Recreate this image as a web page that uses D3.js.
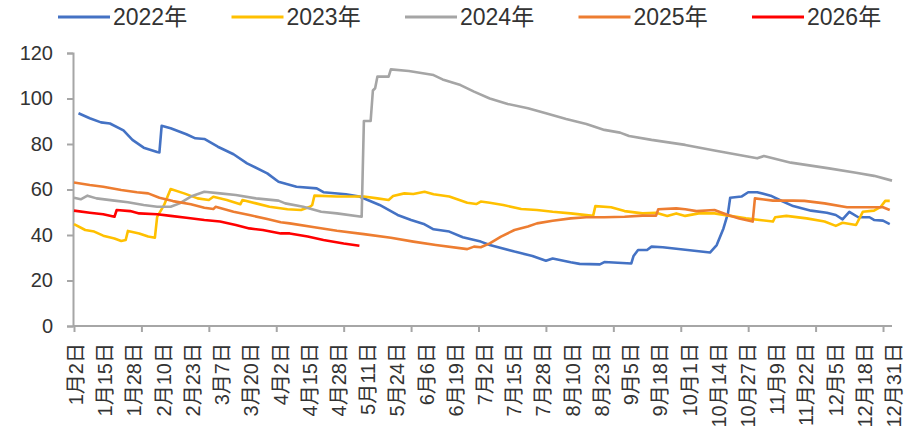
<!DOCTYPE html>
<html>
<head>
<meta charset="utf-8">
<script src="https://cdn.jsdelivr.net/npm/d3@7"></script>
<style>
  body { margin: 0; background: #fff; }
  text { font-family: "Liberation Sans", "Noto Sans CJK SC", sans-serif; fill: #333; }
</style>
</head>
<body>
<svg id="canvas" width="907" height="442"></svg>
<script>
// categories: every calendar day 1月2日 .. 12月31日 (leap-year calendar)
const categories = d3.timeDay.range(new Date(2024, 0, 2), new Date(2025, 0, 1));
const fmtDay = d => (d.getMonth() + 1) + '月' + d.getDate() + '日';

const tickLabels = ['1月2日', '1月15日', '1月28日', '2月10日', '2月23日', '3月7日', '3月20日',
  '4月2日', '4月15日', '4月28日', '5月11日', '5月24日', '6月6日', '6月19日', '7月2日',
  '7月15日', '7月28日', '8月10日', '8月23日', '9月5日', '9月18日', '10月1日', '10月14日',
  '10月27日', '11月9日', '11月22日', '12月5日', '12月18日', '12月31日'];
const yTicks = [0, 20, 40, 60, 80, 100, 120];
const seriesNames = ['2022年', '2023年', '2024年', '2025年', '2026年'];
const seriesColors = ['#4472C4', '#FFC000', '#A5A5A5', '#ED7D31', '#FF0000'];

// day index (0 = 1月2日) and value
const days2022 = [2, 7, 12, 16, 22, 26, 31, 37, 38, 39, 43, 50, 54, 58, 64, 71, 77, 86, 91, 99, 108, 111,
  121, 127, 136, 144, 150, 156, 160, 167, 173, 181, 185, 196, 204, 210, 213, 221, 225, 234, 236, 242,
  248, 249, 251, 255, 257, 262, 271, 283, 286, 289, 291, 292, 297, 300, 304, 310, 314, 320, 328, 335,
  339, 342, 345, 349, 354, 356, 360, 363];
const vals2022 = [93.5, 91.3, 89.5, 89, 86, 81.8, 78.4, 76.5, 76.3, 88, 86.9, 84.3, 82.5, 82.2, 78.8, 75.5,
  71.5, 67.1, 63.4, 61.2, 60.5, 58.8, 57.9, 56.9, 53.2, 48.8, 46.6, 44.7, 42.5, 41.5, 39, 37.1, 35.6,
  32.7, 30.8, 28.7, 29.7, 28, 27.3, 27.1, 28.1, 27.8, 27.5, 30.8, 33.4, 33.4, 34.9, 34.6, 33.6, 32.3,
  35.6, 42.9, 49.5, 56.4, 56.9, 58.8, 58.8, 57.3, 55.4, 52.7, 50.7, 49.8, 48.8, 46.9, 50.2, 47.8, 47.8,
  46.6, 46.3, 44.8];

const days2023 = [0, 5, 9, 13, 18, 21, 23, 24, 29, 33, 36, 37, 40, 43, 49, 55, 60, 62, 68, 74, 75, 81, 87,
  95, 101, 105, 106, 107, 117, 129, 135, 140, 142, 147, 151, 156, 160, 167, 175, 179, 181, 185, 191,
  199, 206, 213, 221, 231, 232, 239, 245, 253, 259, 264, 268, 272, 278, 285, 299, 311, 312, 317, 326,
  334, 339, 342, 348, 351, 356, 359, 361, 363];
const vals2023 = [44.8, 42.2, 41.5, 39.7, 38.5, 37.4, 37.8, 41.8, 40.7, 39.3, 38.8, 48, 53, 60.2, 58.3, 56.1,
  55.4, 56.8, 55.4, 53.5, 55.4, 53.9, 52.4, 51.3, 51, 52.4, 53.2, 57.3, 56.9, 56.9, 56.1, 55.4, 57.1,
  58.3, 58, 59, 57.9, 56.9, 54.2, 53.6, 54.7, 54.2, 53.2, 51.4, 51, 50.2, 49.5, 48.4, 52.7, 52.2, 50.5,
  49.5, 49.8, 48.4, 49.5, 48.4, 49.5, 49.5, 47.3, 45.9, 47.8, 48.4, 47.3, 45.9, 44, 45.4, 44.4, 50.2,
  50.7, 52.4, 55, 55];

const days2024 = [0, 3, 6, 10, 18, 24, 31, 37, 43, 47, 52, 58, 65, 72, 81, 91, 94, 102, 110, 117, 128, 129,
  132, 133, 134, 135, 140, 141, 149, 160, 164, 172, 178, 185, 193, 202, 210, 219, 228, 236, 243, 247,
  257, 272, 285, 304, 307, 319, 336, 348, 356, 364];
const vals2024 = [56.4, 55.7, 57.3, 56.1, 55.1, 54.4, 53.2, 52.4, 52.4, 53.9, 56.9, 59, 58.3, 57.6, 56.1,
  55.1, 53.9, 52.4, 50.2, 49.5, 48, 90.1, 90.1, 103.5, 104.5, 109.6, 109.6, 112.8, 112.1, 110.3, 108.4,
  105.9, 103, 100, 97.6, 95.7, 93.5, 91, 88.8, 86.2, 85, 83.5, 81.8, 79.6, 77.1, 73.7, 74.7, 71.8, 69.3,
  67.4, 66, 63.9];

const days2025 = [0, 7, 13, 21, 28, 33, 38, 44, 52, 58, 62, 63, 71, 78, 86, 92, 96, 107, 117, 129, 141, 151,
  161, 175, 178, 181, 185, 190, 196, 202, 206, 213, 221, 228, 236, 245, 253, 259, 260, 268, 272, 277,
  285, 291, 296, 302, 303, 311, 320, 325, 334, 344, 353, 360, 363];
const vals2025 = [63.1, 62, 61.2, 59.8, 58.8, 58.3, 56.4, 54.9, 53.5, 52, 51.4, 52.4, 50.2, 48.8, 47, 45.6,
  45.1, 43.4, 41.9, 40.4, 38.8, 37.1, 35.6, 33.8, 34.9, 34.6, 36.3, 39.3, 42.2, 43.7, 45.1, 46.3, 47.3,
  47.8, 47.8, 48, 48.5, 48.5, 51.3, 51.7, 51.3, 50.5, 51, 48.8, 47.3, 45.9, 56.1, 55.1, 55.1, 55, 53.9,
  52.2, 52.2, 52.2, 51];

const days2026 = [0, 7, 13, 18, 19, 25, 29, 37, 43, 50, 58, 65, 72, 78, 84, 92, 96, 104, 111, 120, 127];
const vals2026 = [50.7, 49.8, 49.1, 48, 51, 50.5, 49.5, 49.1, 48.4, 47.6, 46.6, 45.9, 44.4, 42.9, 42.2,
  40.7, 40.7, 39.3, 37.8, 36.3, 35.3];

const seriesDays = [days2022, days2023, days2024, days2025, days2026];
const seriesVals = [vals2022, vals2023, vals2024, vals2025, vals2026];

const svg = d3.select('#canvas');
const axisColor = '#a6a6a6';

const x = d3.scaleLinear().domain([0, categories.length - 1]).range([74, 892]);
const y = d3.scaleLinear().domain([0, 120]).range([326, 53]);

// y axis
const yAxis = svg.append('g').attr('transform', 'translate(73,0)')
  .call(d3.axisLeft(y).tickValues(yTicks).tickSize(6).tickPadding(14));
yAxis.select('.domain').attr('stroke', axisColor).attr('stroke-width', 2);
yAxis.selectAll('.tick line').attr('stroke', axisColor).attr('stroke-width', 2);
yAxis.selectAll('.tick text').style('font-size', '20px').attr('fill', '#333');

// x axis: tick marks every 30 categories, labels every 13
const tickIdx = d3.range(0, categories.length, 30);
const xAxis = svg.append('g').attr('transform', 'translate(0,326)')
  .call(d3.axisBottom(x).tickValues(tickIdx).tickSize(6).tickFormat(''));
xAxis.select('.domain').attr('stroke', axisColor).attr('stroke-width', 2)
  .attr('d', 'M' + (x(0) - 1) + ',0H' + x(categories.length - 1));
xAxis.selectAll('.tick line').attr('stroke', axisColor).attr('stroke-width', 2);

const labelIdx = categories.map((d, i) => i).filter(i => tickLabels.includes(fmtDay(categories[i])));
svg.append('g').selectAll('text')
  .data(labelIdx)
  .join('text')
  .attr('transform', i => 'translate(' + (x(i) + 2) + ',343) rotate(-90)')
  .attr('text-anchor', 'end')
  .attr('dy', '0.35em')
  .style('font-size', '20px')
  .text(i => fmtDay(categories[i]));

// lines
const line = d3.line().x(d => x(d[0])).y(d => y(d[1]));
svg.append('g').selectAll('path')
  .data(seriesDays.map((days, k) => days.map((d, j) => [d, seriesVals[k][j]])))
  .join('path')
  .attr('d', line)
  .attr('fill', 'none')
  .attr('stroke', (d, k) => seriesColors[k])
  .attr('stroke-width', 2.6)
  .attr('stroke-linejoin', 'round');

// legend
const legend = svg.append('g').selectAll('g')
  .data(seriesNames)
  .join('g')
  .attr('transform', (d, k) => 'translate(' + (58 + k * 173.5) + ',17)');
legend.append('line')
  .attr('x1', 0).attr('x2', 52)
  .attr('stroke', (d, k) => seriesColors[k])
  .attr('stroke-width', 3);
legend.append('text')
  .attr('x', 55)
  .attr('dy', '0.36em')
  .style('font-size', '23px')
  .text(d => d);
</script>
</body>
</html>
